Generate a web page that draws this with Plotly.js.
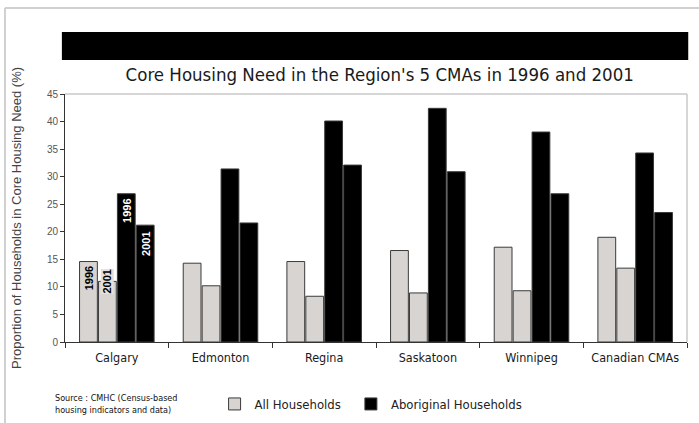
<!DOCTYPE html>
<html>
<head>
<meta charset="utf-8">
<script src="https://cdn.plot.ly/plotly-3.0.1.min.js"></script>
<style>
html,body{margin:0;padding:0;background:#fff;}
#chart{width:699px;height:423px;}
</style>
</head>
<body>
<div id="chart"></div>
<script>
// ---- data ----
const categories = ["Calgary", "Edmonton", "Regina", "Saskatoon", "Winnipeg", "Canadian CMAs"];
const all1996 = [14.6, 14.3, 14.6, 16.6, 17.2, 19.0];
const all2001 = [11.0, 10.2, 8.3, 8.9, 9.3, 13.4];
const abo1996 = [26.9, 31.4, 40.1, 42.4, 38.1, 34.3];
const abo2001 = [21.2, 21.6, 32.1, 30.9, 26.9, 23.5];
const seriesNames = ["All Households", "Aboriginal Households"];
const yearLabels = ["1996", "2001"];
const titleText = "Core Housing Need in the Region's 5 CMAs in 1996 and 2001";
const yTitle = "Proportion of Households in Core Housing Need (%)";
const sourceText = "Source : CMHC (Census-based<br>housing indicators and data)";

const lightCol = "#d8d4d1";
const darkCol = "#000000";
const edge = {color: "#3a3a3a", width: 1};

function bar(y, name, color, show, group, leg) {
  return {type: "bar", x: categories, y: y, name: name, legendgroup: group, legend: leg,
    showlegend: show, marker: {color: color, line: edge}, hoverinfo: "x+y"};
}
const traces = [
  bar(all1996, seriesNames[0], lightCol, true, "all", "legend"),
  bar(all2001, seriesNames[0], lightCol, false, "all", "legend"),
  bar(abo1996, seriesNames[1], darkCol, true, "abo", "legend2"),
  bar(abo2001, seriesNames[1], darkCol, false, "abo", "legend2")
];

const narrow = "DejaVu Sans Condensed, Liberation Sans Narrow, sans-serif";
const bw = 0.73 / 4;
const offs = [-1.5 * bw, -0.5 * bw, 0.5 * bw, 1.5 * bw];
function yrLabel(i, yval, txt, fg, bg) {
  return {xref: "x", yref: "y", x: offs[i], y: yval, text: "<b>" + txt + "</b>",
    textangle: -90, showarrow: false, font: {family: "Liberation Sans, Arial", size: 11, color: fg},
    bgcolor: bg, borderpad: 0, yanchor: "top"};
}
function legendBox(xp) {
  return {orientation: "h", x: xp, xref: "container", xanchor: "left",
    y: 1 - 404 / 423, yref: "container", yanchor: "middle",
    font: {family: narrow, size: 13, color: "#222"}, itemwidth: 30,
    bgcolor: "rgba(0,0,0,0)"};
}

const layout = {
  width: 699, height: 423,
  margin: {l: 65, r: 12, t: 94, b: 81, autoexpand: false},
  paper_bgcolor: "#fff", plot_bgcolor: "#fff",
  barmode: "group", bargap: 0.27, bargroupgap: 0.06,
  title: {text: titleText, x: 0.506, xanchor: "center", xref: "paper",
    y: 1 - 75 / 423, yanchor: "middle",
    font: {family: narrow, size: 18.5, color: "#1a1a1a"}},
  xaxis: {type: "category", showline: true, linecolor: "#333", linewidth: 1,
    ticks: "outside", tickson: "boundaries", ticklen: 5, tickcolor: "#333", tickangle: 0,
    ticklabelstandoff: 4,
    tickfont: {family: narrow, size: 12.5, color: "#1a1a1a"}, showgrid: false, zeroline: false},
  yaxis: {range: [0, 45], dtick: 5, showline: true, linecolor: "#333", linewidth: 1,
    ticks: "outside", ticklen: 4, tickcolor: "#333", showgrid: false, zeroline: false,
    tickfont: {family: "Liberation Sans, Arial", size: 10, color: "#555"},
    title: {text: yTitle, standoff: 22, font: {family: "Liberation Sans, Arial", size: 13, color: "#444"}}},
  showlegend: true,
  legend: legendBox(0.307),
  legend2: legendBox(0.502),
  shapes: [
    {type: "rect", xref: "paper", yref: "paper", x0: -0.005, x1: 1.002, y0: 1.137, y1: 1.25,
      fillcolor: "#000", line: {width: 0}},
    {type: "line", xref: "paper", yref: "paper", x0: 0, x1: 1, y0: 1, y1: 1, line: {color: "#c8c8c8", width: 1.5}},
    {type: "line", xref: "paper", yref: "paper", x0: 1, x1: 1, y0: 0, y1: 1, line: {color: "#c8c8c8", width: 1.5}},
    {type: "line", xref: "paper", yref: "paper", x0: -0.0965, x1: -0.0965, y0: -0.33, y1: 1.347, line: {color: "#d0d0d0", width: 2}},
    {type: "line", xref: "paper", yref: "paper", x0: -0.0965, x1: 1.03, y0: 1.347, y1: 1.347, line: {color: "#d0d0d0", width: 2}}
  ],
  annotations: [
    yrLabel(0, 14.0, yearLabels[0], "#000", lightCol),
    yrLabel(1, 13.4, yearLabels[1], "#000", "#e4e1df"),
    yrLabel(2, 26.2, yearLabels[0], "#fff", darkCol),
    yrLabel(3, 20.2, yearLabels[1], "#fff", darkCol),
    {xref: "paper", yref: "paper", x: -0.02, y: -0.248, xanchor: "left", yanchor: "middle",
      align: "left", showarrow: false, text: sourceText,
      font: {family: "DejaVu Sans Condensed, DejaVu Sans", size: 9, color: "#111"}}
  ]
};

Plotly.newPlot("chart", traces, layout, {displayModeBar: false, staticPlot: true});
</script>
</body>
</html>
